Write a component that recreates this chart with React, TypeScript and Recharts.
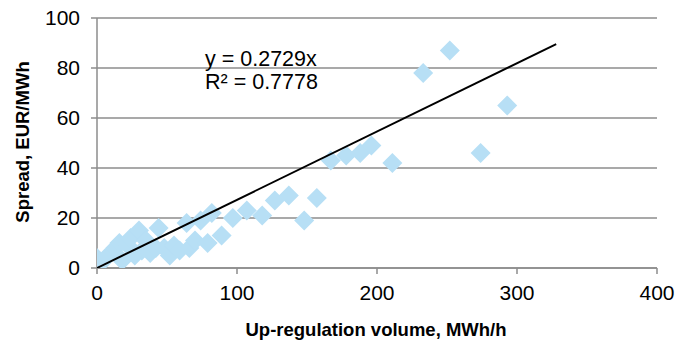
import React from 'react';
import { ComposedChart, Scatter, XAxis, YAxis, CartesianGrid } from 'recharts';

// up-regulation volume (MWh/h) vs spread (EUR/MWh)
const volumes = [0, 3, 6, 10, 13, 16, 18, 22, 24, 27, 30, 32, 35, 38, 42, 44, 48, 52, 55, 59, 64, 66, 70, 74, 79, 82, 89, 97, 107, 118, 127, 137, 148, 157, 167, 178, 188, 196, 211, 233, 252, 274, 293];
const spreads = [4, 2, 4, 6, 8, 10, 3, 9, 12, 5, 15, 7, 11, 6, 8, 16, 8, 5, 9, 7, 18, 8, 11, 19, 10, 22, 13, 20, 23, 21, 27, 29, 19, 28, 43, 45, 46, 49, 42, 78, 87, 46, 65];

const xTicks = [0, 100, 200, 300, 400];
const yTicks = [0, 20, 40, 60, 80, 100];

const slope = 0.2729;
const trendRange = [0, 328];

const points = volumes.map((v, i) => ({ x: v, y: spreads[i] }));
const trend = trendRange.map((x) => ({ x, y: slope * x }));

const FONT = '"Liberation Sans", Arial, sans-serif';

const Diamond = (props: any) => {
  const { cx, cy } = props;
  const r = 10;
  return (
    <polygon
      points={`${cx},${cy - r} ${cx + r},${cy} ${cx},${cy + r} ${cx - r},${cy}`}
      fill="#b7dff5"
    />
  );
};

const NoDot = () => <g />;

export default function App() {
  return (
    <div style={{ position: 'absolute', left: 0, top: 0, width: 683, height: 346, fontFamily: FONT }}>
      <ComposedChart width={683} height={346} margin={{ top: 18, right: 26, bottom: 0, left: 0 }}>
        <CartesianGrid horizontal vertical={false} stroke="#8c8c8c" strokeWidth={1.5} />
        <XAxis
          type="number"
          dataKey="x"
          domain={[0, 400]}
          ticks={xTicks}
          height={78}
          tickSize={6}
          tickMargin={11}
          stroke="#8c8c8c"
          strokeWidth={1.5}
          tick={{ fill: '#000', fontSize: 21, fontFamily: FONT }}
          allowDataOverflow
        />
        <YAxis
          type="number"
          dataKey="y"
          domain={[0, 100]}
          ticks={yTicks}
          width={97}
          tickSize={6}
          tickMargin={11}
          stroke="#8c8c8c"
          strokeWidth={1.5}
          tick={{ fill: '#000', fontSize: 21, fontFamily: FONT }}
          allowDataOverflow
        />
        <Scatter data={points} shape={<Diamond />} isAnimationActive={false} />
        <Scatter
          data={trend}
          line={{ stroke: '#000', strokeWidth: 2 }}
          shape={<NoDot />}
          isAnimationActive={false}
        />
      </ComposedChart>
      <div style={{ position: 'absolute', left: 0, top: 142, width: 0, height: 0 }}>
        <div
          style={{
            position: 'absolute',
            left: 23,
            top: 0,
            transform: 'translate(-50%, -50%) rotate(-90deg)',
            whiteSpace: 'nowrap',
            fontWeight: 'bold',
            fontSize: 18.5,
          }}
        >
          Spread, EUR/MWh
        </div>
      </div>
      <div
        style={{
          position: 'absolute',
          left: 376,
          top: 330,
          transform: 'translate(-50%, -50%)',
          whiteSpace: 'nowrap',
          fontWeight: 'bold',
          fontSize: 18.5,
        }}
      >
        Up-regulation volume, MWh/h
      </div>
      <div style={{ position: 'absolute', left: 205, top: 48, fontSize: 21.5, lineHeight: '23px', whiteSpace: 'nowrap' }}>
        y = 0.2729x
        <br />
        R² = 0.7778
      </div>
    </div>
  );
}
